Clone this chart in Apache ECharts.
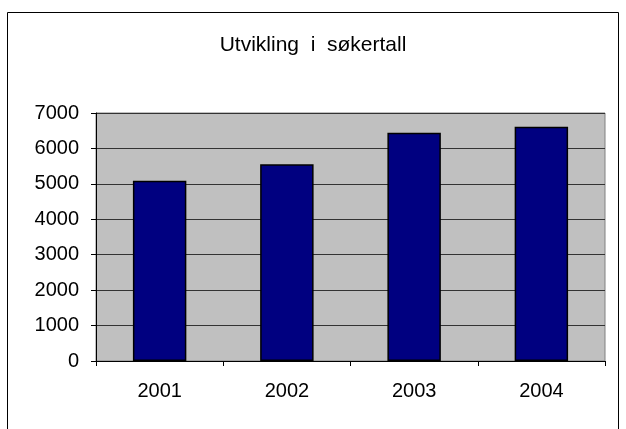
<!DOCTYPE html>
<html>
<head>
<meta charset="utf-8">
<script src="https://cdn.jsdelivr.net/npm/echarts@6/dist/echarts.min.js"></script>
<style>
  html, body { margin: 0; padding: 0; background: #fff; }
  #chart { width: 626px; height: 429px; }
</style>
</head>
<body>
<div id="chart"></div>
<script>
// data
const years = ['2001', '2002', '2003', '2004'];
const soekere = [5090, 5550, 6440, 6610];
const yTicks = { min: 0, max: 7000, interval: 1000 };

const chart = echarts.init(document.getElementById('chart'));
const font = 'Liberation Sans, Arial, sans-serif';

chart.setOption({
    backgroundColor: '#fff',
    animation: false,
    title: {
        text: 'Utvikling  i  søkertall',
        left: 'center',
        top: 35,
        padding: 0,
        textStyle: { fontFamily: font, fontSize: 21, fontWeight: 'normal', color: '#000' }
    },
    // ytre ramme rundt diagrammet
    graphic: [{
        type: 'rect',
        shape: { x: 7.5, y: 12.5, width: 611, height: 430 },
        style: { fill: 'none', stroke: '#000', lineWidth: 1 },
        silent: true
    }],
    grid: {
        left: 96, right: 21, top: 113, bottom: 68,
        show: true,
        backgroundColor: '#C0C0C0',
        borderColor: '#808080',
        borderWidth: 1
    },
    xAxis: {
        type: 'category',
        data: years,
        axisLine: { lineStyle: { color: '#000' } },
        axisTick: { show: true, alignWithLabel: false, length: 5, lineStyle: { color: '#000' } },
        axisLabel: { fontFamily: font, fontSize: 20, color: '#000', margin: 20 }
    },
    yAxis: {
        type: 'value',
        min: yTicks.min, max: yTicks.max, interval: yTicks.interval,
        axisLine: { show: true, lineStyle: { color: '#000' } },
        axisTick: { show: true, length: 5, lineStyle: { color: '#000' } },
        axisLabel: {
            fontFamily: font, fontSize: 20, color: '#000', margin: 17,
            formatter: v => String(v)
        },
        splitLine: { lineStyle: { color: '#333', width: 1 } }
    },
    series: [{
        type: 'bar',
        data: soekere,
        barWidth: '42%',
        itemStyle: { color: '#000080', borderColor: '#000', borderWidth: 1.5 }
    }]
});
</script>
</body>
</html>
